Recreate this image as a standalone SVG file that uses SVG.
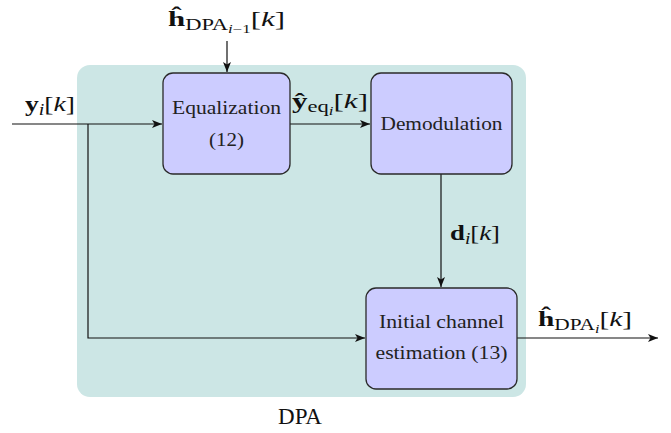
<svg xmlns="http://www.w3.org/2000/svg" width="671" height="433" viewBox="0 0 671 433">
<style>
.bg{fill:#cce6e5;stroke:none}
.blk{fill:#ccccff;stroke:#2a2a2a;stroke-width:1.3}
.lbl{font-size:18px;fill:#222;text-anchor:middle}
.m{font-size:22px;fill:#111}
.b{font-weight:bold}
.it{font-style:italic}
.sub{font-size:16px}
.sub2{font-size:12px}
.con{fill:none;stroke:#111;stroke-width:1.2}
</style>
<defs>
<marker id="ah" viewBox="0 0 10 8" refX="10" refY="4" markerWidth="10" markerHeight="8" markerUnits="userSpaceOnUse" orient="auto">
<path d="M0,0 L10,4 L0,8 L2.5,4 Z" fill="#111"/>
</marker>
</defs>
<rect class="bg" x="77" y="65" width="449" height="332" rx="13"/>
<g id="connectors">
<line class="con" x1="227" y1="41" x2="227" y2="72" marker-end="url(#ah)"/>
<line class="con" x1="12" y1="124" x2="162" y2="124" marker-end="url(#ah)"/>
<polyline class="con" points="88,124 88,338 365,338" marker-end="url(#ah)"/>
<line class="con" x1="290" y1="124" x2="370" y2="124" marker-end="url(#ah)"/>
<line class="con" x1="441" y1="174" x2="441" y2="287" marker-end="url(#ah)"/>
<line class="con" x1="517" y1="338" x2="658" y2="338" marker-end="url(#ah)"/>
</g>
<g font-family="'Liberation Serif','DejaVu Serif',serif">
<g id="equalization">
<rect class="blk" x="163" y="73" width="127" height="101" rx="10"/>
<text class="lbl" x="226.5" y="114" textLength="109" lengthAdjust="spacingAndGlyphs">Equalization</text>
<text class="lbl" x="226.5" y="146" textLength="35" lengthAdjust="spacingAndGlyphs">(12)</text>
</g>
<g id="demodulation">
<rect class="blk" x="371" y="73" width="141" height="101" rx="10"/>
<text class="lbl" x="441.5" y="130" textLength="122" lengthAdjust="spacingAndGlyphs">Demodulation</text>
</g>
<g id="estimation">
<rect class="blk" x="366" y="288" width="151" height="101" rx="10"/>
<text class="lbl" x="441.5" y="328" textLength="125" lengthAdjust="spacingAndGlyphs">Initial channel</text>
<text class="lbl" x="441.5" y="359" textLength="132" lengthAdjust="spacingAndGlyphs">estimation (13)</text>
</g>
<g id="labels">
<text class="m" x="168" y="26" textLength="117" lengthAdjust="spacingAndGlyphs"><tspan class="b">ĥ</tspan><tspan class="sub" dy="4">DPA</tspan><tspan class="sub2 it" dy="3">i</tspan><tspan class="sub2">−1</tspan><tspan dy="-7">[</tspan><tspan class="it">k</tspan>]</text>
<text class="m" x="25" y="111" textLength="50" lengthAdjust="spacingAndGlyphs"><tspan class="b">y</tspan><tspan class="sub it" dy="4">i</tspan><tspan dy="-4">[</tspan><tspan class="it">k</tspan>]</text>
<text class="m" x="292" y="108" textLength="76" lengthAdjust="spacingAndGlyphs"><tspan class="b">ŷ</tspan><tspan class="sub" dy="4">eq</tspan><tspan class="sub2 it" dy="3">i</tspan><tspan dy="-7">[</tspan><tspan class="it">k</tspan>]</text>
<text class="m" x="450" y="240" textLength="50" lengthAdjust="spacingAndGlyphs"><tspan class="b">d</tspan><tspan class="sub it" dy="4">i</tspan><tspan dy="-4">[</tspan><tspan class="it">k</tspan>]</text>
<text class="m" x="538" y="326" textLength="94" lengthAdjust="spacingAndGlyphs"><tspan class="b">ĥ</tspan><tspan class="sub" dy="4">DPA</tspan><tspan class="sub2 it" dy="3">i</tspan><tspan dy="-7">[</tspan><tspan class="it">k</tspan>]</text>
<text class="m" x="300" y="424" text-anchor="middle" style="font-size:23px">DPA</text>
</g>
</g>
</svg>
